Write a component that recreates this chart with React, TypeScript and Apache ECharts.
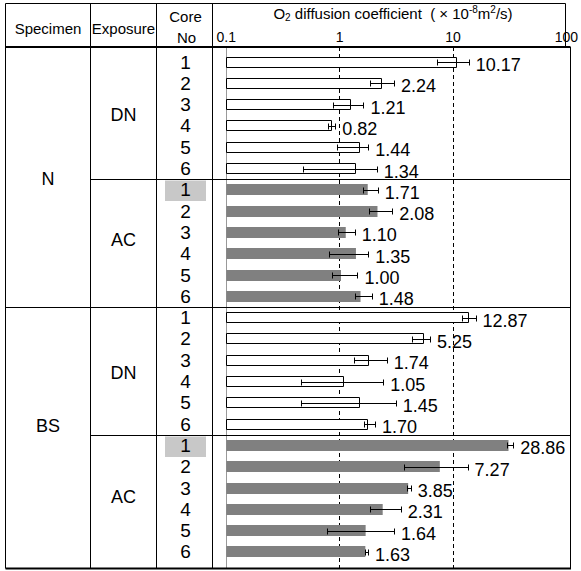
import React, { useEffect, useRef } from "react";
import * as echarts from "echarts";

// ---------- data ----------
const specimens = ["N", "BS"];
const exposures = ["DN", "AC"];
const coreNos = ["1", "2", "3", "4", "5", "6"];
const tickLabels = ["0.1", "1", "10", "100"];

// O2 diffusion coefficient (x10^-8 m2/s), order: N-DN 1..6, N-AC 1..6, BS-DN 1..6, BS-AC 1..6
const values = [
  10.17, 2.24, 1.21, 0.82, 1.44, 1.34,
  1.71, 2.08, 1.1, 1.35, 1.0, 1.48,
  12.87, 5.25, 1.74, 1.05, 1.45, 1.7,
  28.86, 7.27, 3.85, 2.31, 1.64, 1.63,
];
const errLow = [
  6.9, 1.8, 0.86, 0.77, 0.92, 0.47,
  1.55, 1.77, 0.95, 0.79, 0.84, 1.32,
  11.3, 4.18, 1.29, 0.45, 0.45, 1.6,
  28.2, 3.54, 3.78, 1.8, 0.76, 1.62,
];
const errHigh = [
  13.0, 2.9, 1.57, 0.89, 1.73, 2.05,
  2.09, 2.8, 1.32, 1.73, 1.39, 1.85,
  14.9, 5.97, 2.5, 2.34, 3.0, 1.98,
  31.8, 12.7, 4.05, 3.32, 2.9, 1.72,
];

// ---------- layout ----------
const W = 581;
const H = 571;
const FONT = '"Liberation Sans", Arial, Helvetica, sans-serif';
const PLOT_L = 226.3;
const PLOT_R = 570.4;
const BAND_TOP = 51.4;
const BAND = 21.3;
const TOP_Y = 3.5;
const HEAD_Y = 47;
const BOT_Y = 568.5;
const COLS = [5.5, 90.5, 156.5, 212.5];
const HEAD_RIGHT = 565.5;
const BODY_RIGHT = 570.5;
const SPEC_LABEL_Y = [179, 426];
const EXPO_LABEL_Y = [[115, 240], [373, 497]];

type Row = { id: string; s: string; e: string; c: string };
const rows: Row[] = [];
specimens.forEach((s) =>
  exposures.forEach((e) =>
    coreNos.forEach((c) => rows.push({ id: `${s}-${e}-${c}`, s, e, c }))
  )
);

function line(x1: number, y1: number, x2: number, y2: number, w = 1) {
  return {
    type: "line",
    z: 5,
    shape: { x1, y1, x2, y2 },
    style: { stroke: "#000", lineWidth: w },
  };
}
function txt(x: number, y: number, text: string, size: number, extra: any = {}) {
  return {
    type: "text",
    z: 10,
    x,
    y,
    style: {
      text,
      fill: "#000",
      fontSize: size,
      fontFamily: FONT,
      align: "center",
      verticalAlign: "middle",
      ...extra,
    },
  };
}

export default function App() {
  const ref = useRef<HTMLDivElement>(null);
  useEffect(() => {
    if (!ref.current) return;
    const chart = echarts.init(ref.current, undefined, { renderer: "svg" });
    const n = rows.length;
    const bandY = (k: number) => BAND_TOP + BAND * k;

    const graphics: any[] = [];
    // highlight boxes for AC core 1
    rows.forEach((r, i) => {
      if (r.e === "AC" && r.c === "1") {
        graphics.push({
          type: "rect",
          z: -1,
          shape: { x: 165, y: Math.round(bandY(i)) + 1.5, width: 41, height: 20.5 },
          style: { fill: "#c8c8c8" },
        });
      }
    });
    // outer / column lines
    graphics.push(line(COLS[0], TOP_Y, HEAD_RIGHT, TOP_Y));
    COLS.forEach((x) => graphics.push(line(x, TOP_Y, x, BOT_Y)));
    graphics.push(line(HEAD_RIGHT, TOP_Y, HEAD_RIGHT, HEAD_Y));
    graphics.push(line(BODY_RIGHT, HEAD_Y, BODY_RIGHT, BOT_Y));
    graphics.push(line(COLS[0], HEAD_Y, BODY_RIGHT, HEAD_Y, 2));
    graphics.push(line(COLS[0], BOT_Y, BODY_RIGHT + 0.5, BOT_Y, 2));
    // group separators
    for (let i = 1; i < n; i++) {
      const prev = rows[i - 1];
      const cur = rows[i];
      const y = Math.round(bandY(i)) + 0.5;
      if (prev.s !== cur.s) graphics.push(line(COLS[0], y, BODY_RIGHT, y));
      else if (prev.e !== cur.e) graphics.push(line(COLS[1], y, BODY_RIGHT, y));
    }
    // header texts
    graphics.push(txt((COLS[0] + COLS[1]) / 2, 28, "Specimen", 15));
    graphics.push(txt((COLS[1] + COLS[2]) / 2, 28, "Exposure", 15));
    graphics.push(txt(185.5, 16, "Core", 15));
    graphics.push(txt(186.5, 37, "No", 15));
    graphics.push({
      type: "text",
      z: 10,
      x: 393,
      y: 13,
      style: {
        text: "{a|O}{sub|2}{a| diffusion coefficient  ( × 10}{sup|-8}{a|m}{sup|2}{a|/s)}",
        align: "center",
        verticalAlign: "middle",
        fill: "#000",
        fontFamily: FONT,
        rich: {
          a: { fontSize: 15, fontFamily: FONT, fill: "#000", lineHeight: 18 },
          sub: { fontSize: 10, fontFamily: FONT, fill: "#000", verticalAlign: "bottom", lineHeight: 18 },
          sup: { fontSize: 10, fontFamily: FONT, fill: "#000", verticalAlign: "top", lineHeight: 18 },
        },
      },
    });
    // row group labels
    specimens.forEach((s, si) => {
      graphics.push(txt((COLS[0] + COLS[1]) / 2, SPEC_LABEL_Y[si], s, 18));
      exposures.forEach((e, ei) => {
        graphics.push(txt((COLS[1] + COLS[2]) / 2, EXPO_LABEL_Y[si][ei], e, 18));
      });
    });

    const option: any = {
      animation: false,
      backgroundColor: "#fff",
      grid: [
        { left: PLOT_L, right: W - PLOT_R, top: HEAD_Y, bottom: H - BOT_Y },
        { left: PLOT_L, right: W - PLOT_R, top: BAND_TOP, height: BAND * n },
      ],
      xAxis: [
        {
          gridIndex: 0,
          type: "log",
          logBase: 10,
          min: 0.1,
          max: 100,
          position: "top",
          axisLine: { show: false },
          axisTick: { show: false },
          axisLabel: {
            margin: 3,
            fontSize: 14,
            color: "#000",
            fontFamily: FONT,
            formatter: (v: number) => tickLabels[Math.round(Math.log10(v)) + 1] ?? String(v),
          },
          splitLine: {
            show: true,
            showMinLine: false,
            showMaxLine: false,
            lineStyle: { color: "#000", type: [4, 3], width: 1 },
          },
        },
        { gridIndex: 1, type: "log", logBase: 10, min: 0.1, max: 100, show: false },
      ],
      yAxis: [
        {
          gridIndex: 0,
          type: "value",
          min: 0,
          max: 1,
          axisLine: { show: true, lineStyle: { color: "#999", width: 1 } },
          axisTick: { show: false },
          axisLabel: { show: false },
          splitLine: { show: false },
        },
        {
          gridIndex: 1,
          type: "category",
          inverse: true,
          data: rows.map((r) => r.id),
          axisLine: { show: false },
          axisTick: { show: false },
          splitLine: { show: false },
          axisLabel: {
            interval: 0,
            margin: PLOT_L - 185.5,
            align: "center",
            fontSize: 19,
            color: "#000",
            fontFamily: FONT,
            formatter: (v: string) => v.split("-")[2],
          },
        },
      ],
      series: [
        {
          type: "custom",
          xAxisIndex: 1,
          yAxisIndex: 1,
          data: values.map((v, i) => [v, i]),
          encode: { x: 0, y: 1 },
          renderItem: (params: any, api: any) => {
            const i = params.dataIndex;
            const v = api.value(0);
            const yi = api.value(1);
            const p0 = api.coord([0.1, yi]);
            const p1 = api.coord([v, yi]);
            const h = 11;
            const top = Math.round(p0[1] - h / 2);
            const isAC = rows[i].e === "AC";
            return {
              type: "rect",
              shape: isAC
                ? { x: p0[0], y: top, width: p1[0] - p0[0], height: h }
                : { x: Math.round(p0[0]) + 0.5, y: top + 0.5, width: Math.round(p1[0] - p0[0]), height: h - 1 },
              style: isAC ? { fill: "#808080" } : { fill: "#fff", stroke: "#000", lineWidth: 1 },
            };
          },
        },
        {
          type: "custom",
          xAxisIndex: 1,
          yAxisIndex: 1,
          z: 3,
          data: values.map((v, i) => [errHigh[i], i, errLow[i], v]),
          encode: { x: 0, y: 1 },
          renderItem: (params: any, api: any) => {
            const yi = api.value(1);
            const hi = api.coord([api.value(0), yi]);
            const lo = api.coord([api.value(2), yi]);
            const v = api.value(3);
            const y = Math.round(hi[1]) + 0.5;
            const xl = Math.round(lo[0]) + 0.5;
            const xh = Math.round(hi[0]) + 0.5;
            const st = { stroke: "#000", lineWidth: 1 };
            return {
              type: "group",
              children: [
                { type: "line", shape: { x1: xl, y1: y, x2: xh, y2: y }, style: st },
                { type: "line", shape: { x1: xl, y1: y - 3, x2: xl, y2: y + 3 }, style: st },
                { type: "line", shape: { x1: xh, y1: y - 3, x2: xh, y2: y + 3 }, style: st },
                {
                  type: "text",
                  x: hi[0] + 7,
                  y: hi[1] + 3,
                  style: {
                    text: v.toFixed(2),
                    fill: "#000",
                    fontSize: 18,
                    fontFamily: FONT,
                    align: "left",
                    verticalAlign: "middle",
                  },
                },
              ],
            };
          },
        },
      ],
      graphic: { elements: graphics },
    };
    chart.setOption(option);
    return () => chart.dispose();
  }, []);
  return (
    <div
      ref={ref}
      style={{ position: "absolute", left: 0, top: 0, width: W, height: H }}
    />
  );
}
